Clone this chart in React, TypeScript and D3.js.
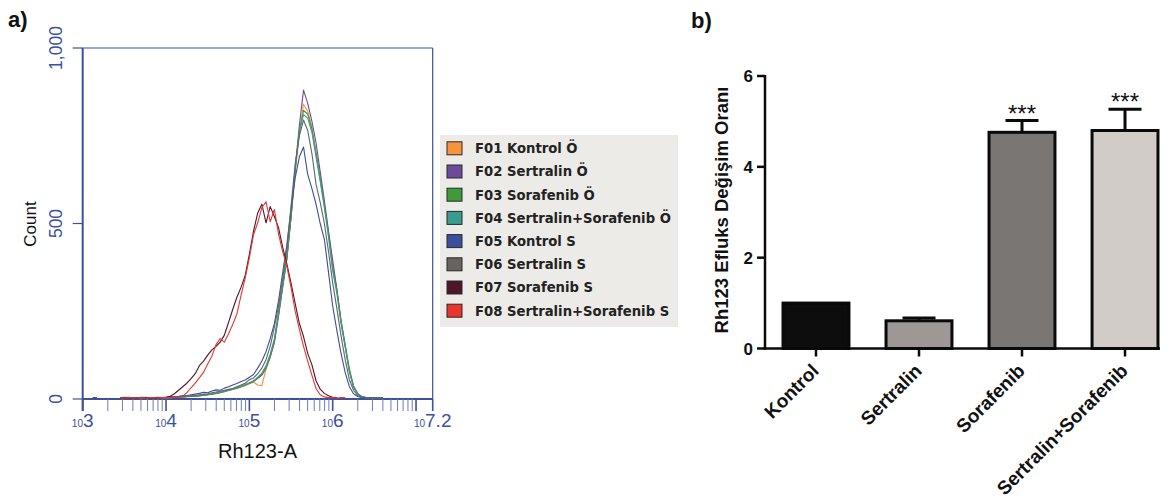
import React from 'react';
import * as d3 from 'd3';

// ---------- Panel a: flow cytometry histogram data ----------
// log10(Rh123-A) bin positions
const binLog10 = [
  3.45, 3.5, 3.55, 3.6, 3.65, 3.7, 3.75, 3.8, 3.85, 3.9,
  3.95, 4.0, 4.05, 4.1, 4.15, 4.2, 4.25, 4.3, 4.35, 4.4,
  4.45, 4.5, 4.55, 4.6, 4.65, 4.7, 4.75, 4.8, 4.85, 4.9,
  4.95, 5.0, 5.05, 5.1, 5.15, 5.2, 5.25, 5.3, 5.35, 5.4,
  5.45, 5.5, 5.55, 5.6, 5.65, 5.7, 5.75, 5.8, 5.85, 5.9,
  5.95, 6.0, 6.05, 6.1, 6.15, 6.2, 6.25, 6.3, 6.35, 6.4,
  6.45, 6.5, 6.55, 6.6,
];

const f01KontrolO = [
  4, 5, 4, 4, 3, 4, 5, 4, 4, 3,
  4, 4, 4, 5, 5, 6, 6, 7, 8, 9,
  10, 12, 13, 15, 18, 21, 24, 27, 30, 34,
  38, 44, 48, 40, 38, 85, 118, 160, 235, 318,
  400, 515, 648, 755, 840, 820, 775, 705, 632, 552,
  475, 385, 312, 225, 152, 82, 36, 15, 6, 4,
  4, 3, 4, 4,
];
const f02SertralinO = [
  3, 4, 3, 4, 4, 3, 3, 4, 3, 4,
  3, 4, 5, 5, 6, 6, 7, 8, 8, 10,
  11, 13, 14, 17, 19, 23, 26, 29, 32, 36,
  40, 45, 50, 58, 68, 88, 120, 162, 238, 320,
  402, 518, 655, 780, 880, 842, 792, 730, 648, 565,
  478, 395, 312, 222, 150, 80, 34, 14, 6, 4,
  3, 4, 4, 3,
];
const f03SorafenibO = [
  4, 4, 5, 4, 4, 3, 4, 4, 4, 3,
  4, 4, 5, 5, 6, 6, 7, 7, 9, 9,
  11, 12, 14, 16, 18, 21, 24, 28, 31, 35,
  39, 44, 50, 60, 70, 90, 122, 166, 242, 322,
  398, 520, 652, 762, 822, 812, 770, 700, 628, 552,
  470, 372, 310, 222, 155, 85, 38, 16, 7, 4,
  4, 4, 3, 4,
];
const f04ComboO = [
  3, 3, 4, 4, 3, 4, 3, 4, 4, 4,
  3, 4, 4, 5, 5, 6, 7, 8, 8, 10,
  11, 12, 15, 16, 19, 22, 25, 28, 32, 36,
  41, 46, 52, 62, 74, 95, 128, 172, 250, 330,
  410, 528, 660, 765, 810, 800, 760, 690, 620, 545,
  460, 365, 300, 215, 148, 78, 34, 14, 6, 4,
  3, 3, 4, 3,
];
const f05KontrolS = [
  3, 4, 3, 4, 3, 5, 4, 3, 4, 5,
  4, 5, 6, 7, 8, 10, 9, 12, 14, 16,
  19, 18, 23, 26, 25, 31, 35, 40, 44, 50,
  54, 62, 70, 88, 108, 135, 172, 215, 280, 360,
  440, 540, 630, 690, 718, 640, 600, 555, 500, 455,
  360, 265, 195, 130, 75, 35, 15, 7, 4, 3,
  4, 3, 3, 4,
];
const f06SertralinS = [
  4, 3, 4, 3, 4, 3, 4, 4, 3, 4,
  4, 4, 5, 6, 6, 7, 8, 9, 10, 12,
  14, 15, 18, 20, 22, 25, 28, 30, 35, 40,
  45, 55, 60, 72, 88, 112, 150, 205, 265, 345,
  430, 550, 670, 750, 795, 765, 700, 612, 560, 500,
  420, 330, 258, 180, 112, 55, 25, 10, 5, 4,
  3, 4, 3, 3,
];
const f07SorafenibS: (number | null)[] = [
  3, 4, 3, 4, 3, 4, 4, 3, 4, 3,
  4, 5, 8, 15, 25, 35, 45, 58, 72, 95,
  108, 125, 140, 150, 162, 182, 218, 255, 290, 318,
  352, 412, 478, 530, 555, 502, 548, 520, 488, 432,
  385, 330, 272, 215, 178, 130, 98, 52, 28, 16,
  9, 5, 4, null, null, null, null, null, null, null,
  null, null, null, null,
];
const f08ComboS: (number | null)[] = [
  4, 3, 4, 4, 3, 4, 3, 4, 4, 3,
  4, 4, 4, 4, 5, 8, 18, 32, 45, 60,
  76, 100, 122, 155, 172, 162, 186, 212, 242, 295,
  345, 402, 468, 502, 545, 562, 505, 540, 470, 420,
  378, 318, 250, 198, 150, 108, 68, 30, 12, 6,
  4, 4, 3, 4, 4, null, null, null, null, null,
  null, null, null, null,
];
// stray low events of F05 near 10^3.1
const f05StrayLog10 = [3.12, 3.17];
const f05StrayCount = [4, 4];

const legendLabels = [
  'F01 Kontrol Ö',
  'F02 Sertralin Ö',
  'F03 Sorafenib Ö',
  'F04 Sertralin+Sorafenib Ö',
  'F05 Kontrol S',
  'F06 Sertralin S',
  'F07 Sorafenib S',
  'F08 Sertralin+Sorafenib S',
];
const legendColors = ['#f7943b', '#6c4b9a', '#3f9a3a', '#3a9b8f', '#3c4e9e', '#67635f', '#4f1529', '#e8352d'];
const histSeries = [f01KontrolO, f02SertralinO, f03SorafenibO, f04ComboO, f05KontrolS, f06SertralinS, f07SorafenibS, f08ComboS];

const xTickExponents = [3, 4, 5, 6, 7.2];
const xTickExpLabels = ['3', '4', '5', '6', '7.2'];
const yTicksA = [0, 500, 1000];
const yTickLabelsA = ['0', '500', '1,000'];

// ---------- Panel b: bar chart data ----------
const barCategories = ['Kontrol', 'Sertralin', 'Sorafenib', 'Sertralin+Sorafenib'];
const barValues = [1.0, 0.61, 4.76, 4.8];
const barErrors = [0, 0.06, 0.26, 0.47];
const barFills = ['#0d0d0d', '#9d9796', '#7a7673', '#d2ccc8'];
const barSignif = ['', '', '***', '***'];
const yTicksB = [0, 2, 4, 6];

const FONT = "Arial, 'Liberation Sans', sans-serif";
const LEGEND_FONT = "'DejaVu Sans', Verdana, sans-serif";
const BLUE = '#3d4f9f';

export default function App() {
  // Panel a scales
  const xA = d3.scaleLog().domain([1e3, Math.pow(10, 7.2)]).range([82.7, 432.7]);
  const yA = d3.scaleLinear().domain([0, 1000]).range([399, 48]);
  const lineA = d3
    .line<number | null>()
    .defined((v) => v != null)
    .x((_, i) => xA(Math.pow(10, binLog10[i])))
    .y((v) => yA(v as number));
  const strayLine = d3
    .line<number>()
    .x((_, i) => xA(Math.pow(10, f05StrayLog10[i])))
    .y((v) => yA(v));

  const logTicks = xA.ticks();
  const [x0, x1] = xA.range();
  const [yBot, yTop] = yA.range();

  // Panel b scales
  const xB = d3.scaleBand<string>().domain(barCategories).range([765, 1176]).paddingInner(0.36).paddingOuter(0.175);
  const yB = d3.scaleLinear().domain([0, 6]).range([348.5, 76]);

  return (
    <svg
      width={1174}
      height={502}
      style={{ position: 'absolute', left: 0, top: 0, display: 'block', background: '#fff' }}
      fontFamily={FONT}
    >
      <rect x={0} y={0} width={1174} height={502} fill="#fff" />
      {/* ---------------- Panel a ---------------- */}
      <text x={8} y={27} fontSize={22} fontWeight="bold" fill="#111">a)</text>

      {/* frame */}
      <line x1={x0} x2={x1} y1={yTop} y2={yTop} stroke={BLUE} strokeWidth={1.2} />
      <line x1={x1} x2={x1} y1={yTop} y2={yBot} stroke={BLUE} strokeWidth={1.2} />
      <line x1={x0} x2={x0} y1={yTop} y2={yBot + 12} stroke={BLUE} strokeWidth={2} />
      <line x1={x0} x2={x1} y1={yBot} y2={yBot} stroke={BLUE} strokeWidth={2} />

      {/* y ticks */}
      {yTicksA.map((t, i) => (
        <g key={'ya' + t}>
          <line x1={x0 - 10} x2={x0} y1={yA(t)} y2={yA(t)} stroke={BLUE} strokeWidth={1.2} />
          <text
            transform={`translate(62,${yA(t)}) rotate(-90)`}
            textAnchor="middle"
            fontSize={17.5}
            fill={BLUE}
          >
            {yTickLabelsA[i]}
          </text>
        </g>
      ))}

      {/* x ticks */}
      {logTicks.map((t) => {
        const major = Math.abs(Math.log10(t) - Math.round(Math.log10(t))) < 1e-9;
        return (
          <line
            key={'xa' + t}
            x1={xA(t)}
            x2={xA(t)}
            y1={yBot}
            y2={yBot + 12}
            stroke={major ? BLUE : '#6f7cbc'}
            strokeWidth={major ? 1.6 : 1}
          />
        );
      })}
      <line x1={x1} x2={x1} y1={yBot} y2={yBot + 12} stroke={BLUE} strokeWidth={1.6} />
      {xTickExponents.map((e, i) => (
        <text key={'xl' + e} x={xA(Math.pow(10, e))} y={427} textAnchor="middle" fill={BLUE}>
          <tspan fontSize={10}>10</tspan>
          <tspan fontSize={19}>{xTickExpLabels[i]}</tspan>
        </text>
      ))}
      <text x={257.5} y={458} textAnchor="middle" fontSize={20} fill="#111">Rh123-A</text>
      <text transform="translate(36,224) rotate(-90)" textAnchor="middle" fontSize={17} fill="#111">Count</text>

      {/* histogram lines */}
      <path d={strayLine(f05StrayCount) || ''} fill="none" stroke={legendColors[4]} strokeWidth={1.2} />
      {histSeries.map((s, i) => (
        <path key={'h' + i} d={lineA(s) || ''} fill="none" stroke={legendColors[i]} strokeWidth={1.1} strokeLinejoin="round" />
      ))}

      {/* legend */}
      <rect x={440} y={135} width={238} height={192} fill="#edebe7" />
      {legendLabels.map((lab, i) => {
        const cy = 148.3 + i * 23.2;
        return (
          <g key={'lg' + i}>
            <rect x={447} y={cy - 6.5} width={15} height={13} fill={legendColors[i]} stroke="#2a2a2a" strokeWidth={1} />
            <text x={475} y={cy + 4.8} fontSize={13.2} fontWeight="bold" fontFamily={LEGEND_FONT} fill="#222">{lab}</text>
          </g>
        );
      })}

      {/* ---------------- Panel b ---------------- */}
      <text x={691} y={28} fontSize={22} fontWeight="bold" fill="#111">b)</text>

      {/* bars */}
      {barCategories.map((c, i) => {
        const x = xB(c) as number;
        const w = xB.bandwidth();
        const cx = x + w / 2;
        const top = yB(barValues[i]);
        const capY = yB(barValues[i] + barErrors[i]);
        return (
          <g key={'bar' + c}>
            <rect x={x} y={top} width={w} height={yB(0) - top} fill={barFills[i]} stroke="#0a0a0a" strokeWidth={3} />
            {barErrors[i] > 0 && (
              <g stroke="#0a0a0a" strokeWidth={3}>
                <line x1={cx} x2={cx} y1={top} y2={capY} />
                <line x1={cx - 16.5} x2={cx + 16.5} y1={capY} y2={capY} />
              </g>
            )}
            {barSignif[i] && (
              <text x={cx} y={capY + 1} textAnchor="middle" fontSize={24} fill="#111">
                {barSignif[i]}
              </text>
            )}
          </g>
        );
      })}

      {/* y axis */}
      <line x1={765} x2={765} y1={yB(6) - 1} y2={yB(0) + 1.2} stroke="#0a0a0a" strokeWidth={2.5} />
      {yTicksB.map((t) => (
        <g key={'yb' + t}>
          <line x1={757} x2={765} y1={yB(t)} y2={yB(t)} stroke="#0a0a0a" strokeWidth={2.5} />
          <text x={753} y={yB(t)} dy="0.36em" textAnchor="end" fontSize={17} fontWeight="bold" fill="#111">
            {t}
          </text>
        </g>
      ))}
      <text
        transform="translate(728,210) rotate(-90)"
        textAnchor="middle"
        fontSize={18.5}
        fontWeight="bold"
        fill="#111"
      >
        Rh123 Efluks Değişim Oranı
      </text>

      {/* x axis */}
      <line x1={763.8} x2={1160} y1={yB(0)} y2={yB(0)} stroke="#0a0a0a" strokeWidth={2.5} />
      {barCategories.map((c) => {
        const cx = (xB(c) as number) + xB.bandwidth() / 2;
        return (
          <g key={'xb' + c}>
            <line x1={cx} x2={cx} y1={yB(0)} y2={yB(0) + 8} stroke="#0a0a0a" strokeWidth={2.5} />
            <text
              transform={`translate(${cx + 4},${372}) rotate(-45)`}
              textAnchor="end"
              fontSize={19}
              fontWeight="bold"
              fill="#111"
            >
              {c}
            </text>
          </g>
        );
      })}
    </svg>
  );
}
